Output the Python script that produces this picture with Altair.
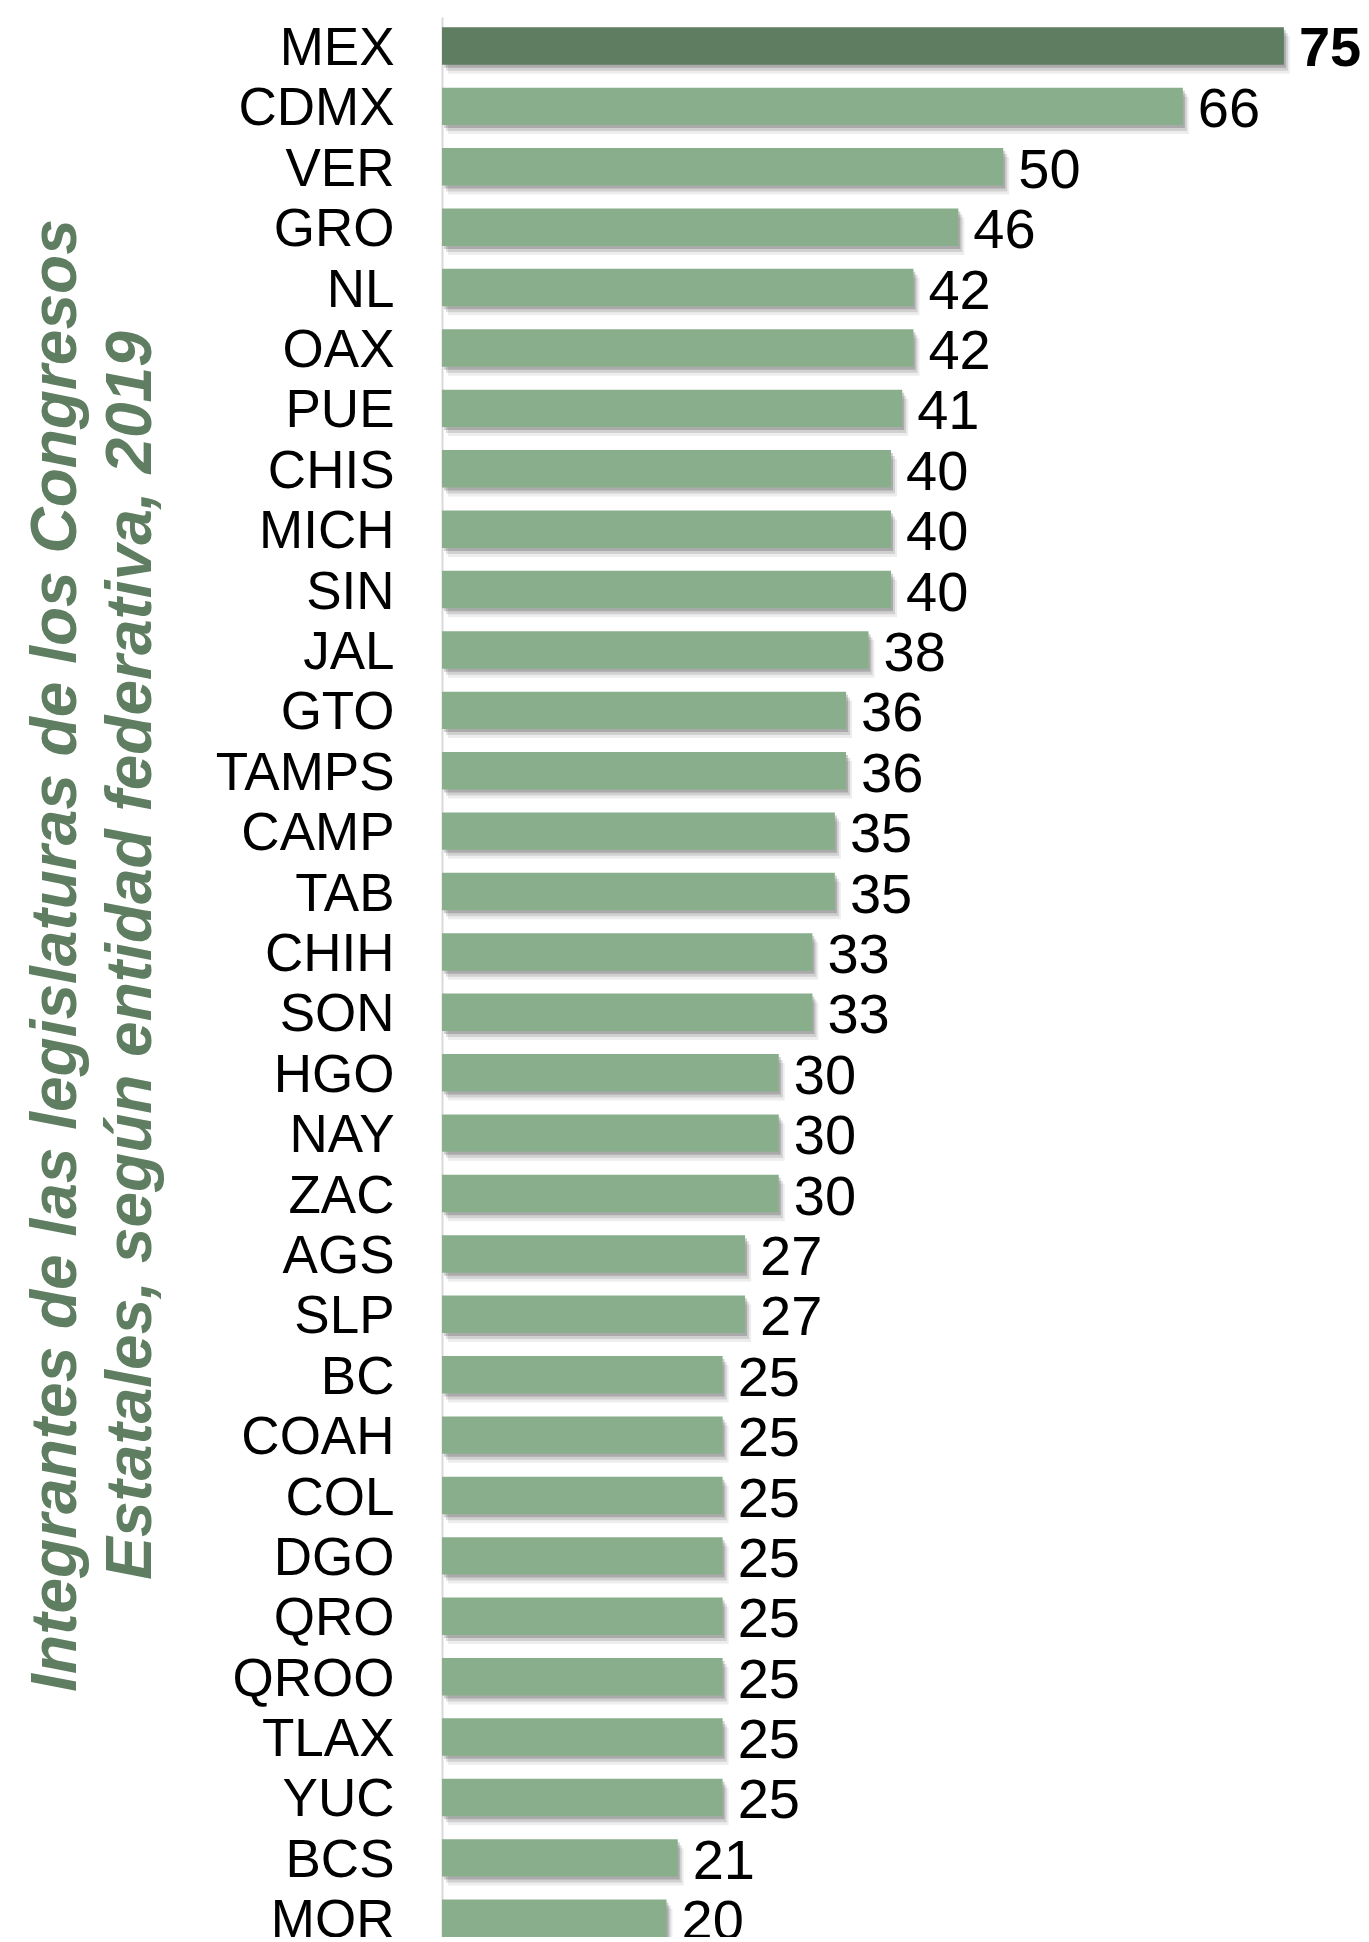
import altair as alt
import pandas as pd

states = ["MEX", "CDMX", "VER", "GRO", "NL", "OAX", "PUE", "CHIS", "MICH", "SIN",
          "JAL", "GTO", "TAMPS", "CAMP", "TAB", "CHIH", "SON", "HGO", "NAY", "ZAC",
          "AGS", "SLP", "BC", "COAH", "COL", "DGO", "QRO", "QROO", "TLAX", "YUC",
          "BCS", "MOR"]
values = [75, 66, 50, 46, 42, 42, 41, 40, 40, 40,
          38, 36, 36, 35, 35, 33, 33, 30, 30, 30,
          27, 27, 25, 25, 25, 25, 25, 25, 25, 25,
          21, 20]
title_lines = ["Integrantes de las legislaturas de los Congresos",
               "Estatales, según entidad federativa, 2019"]
highlight = "MEX"

DARK = "#5f7d61"
LIGHT = "#89ae8c"
FONT = "Liberation Sans"

df = pd.DataFrame({"estado": states, "valor": values})

xscale = alt.Scale(domain=[0, 80], nice=False, zero=True)
yscale = alt.Scale(paddingInner=0.38, paddingOuter=0.085, align=1)

y_enc = alt.Y(
    "estado:N", sort=states, scale=yscale,
    axis=alt.Axis(
        title=title_lines, titleAngle=-90, titleX=-367, titleY=938,
        titleAlign="center", titleBaseline="alphabetic",
        titleFont=FONT, titleFontSize=64, titleFontWeight="bold",
        titleFontStyle="italic", titleColor=DARK, titleLineHeight=75,
        labelFont=FONT, labelFontSize=53, labelColor="#000000",
        labelPadding=48, labelLimit=0, labelOffset=3, ticks=False,
        domain=True, domainColor="#d9d9d9", domainWidth=2, grid=False,
    ),
)
x_enc = alt.X("valor:Q", scale=xscale, axis=None)

base = alt.Chart(df)

shadows = []
for off, op in [((2, 3), 0.18), ((4, 6), 0.12), ((6, 9), 0.07)]:
    shadows.append(
        base.mark_bar(color="#000000", opacity=op, xOffset=off[0], x2Offset=off[0],
                      yOffset=off[1], y2Offset=off[1])
        .encode(x=x_enc, y=y_enc)
    )

bars = base.mark_bar().encode(
    x=x_enc, y=y_enc,
    color=alt.condition(alt.datum.estado == highlight, alt.value(DARK), alt.value(LIGHT)),
)

labels_regular = base.transform_filter(alt.datum.estado != highlight).mark_text(
    align="left", baseline="middle", dx=15, dy=4, font=FONT, fontSize=56, color="#000000"
).encode(x=x_enc, y=y_enc, text="valor:Q")

labels_bold = base.transform_filter(alt.datum.estado == highlight).mark_text(
    align="left", baseline="middle", dx=15, dy=3, font=FONT, fontSize=56,
    fontWeight="bold", color="#000000"
).encode(x=x_enc, y=y_enc, text="valor:Q")

chart = alt.layer(*shadows, bars, labels_regular, labels_bold).properties(
    width=898, height=1920,
    autosize=alt.AutoSizeParams(type="none"),
    padding={"left": 434, "top": 9, "right": 20, "bottom": 0},
    background="white",
).configure_view(stroke=None)

chart.save("out.html", embed_options={"renderer": "svg", "actions": False})
